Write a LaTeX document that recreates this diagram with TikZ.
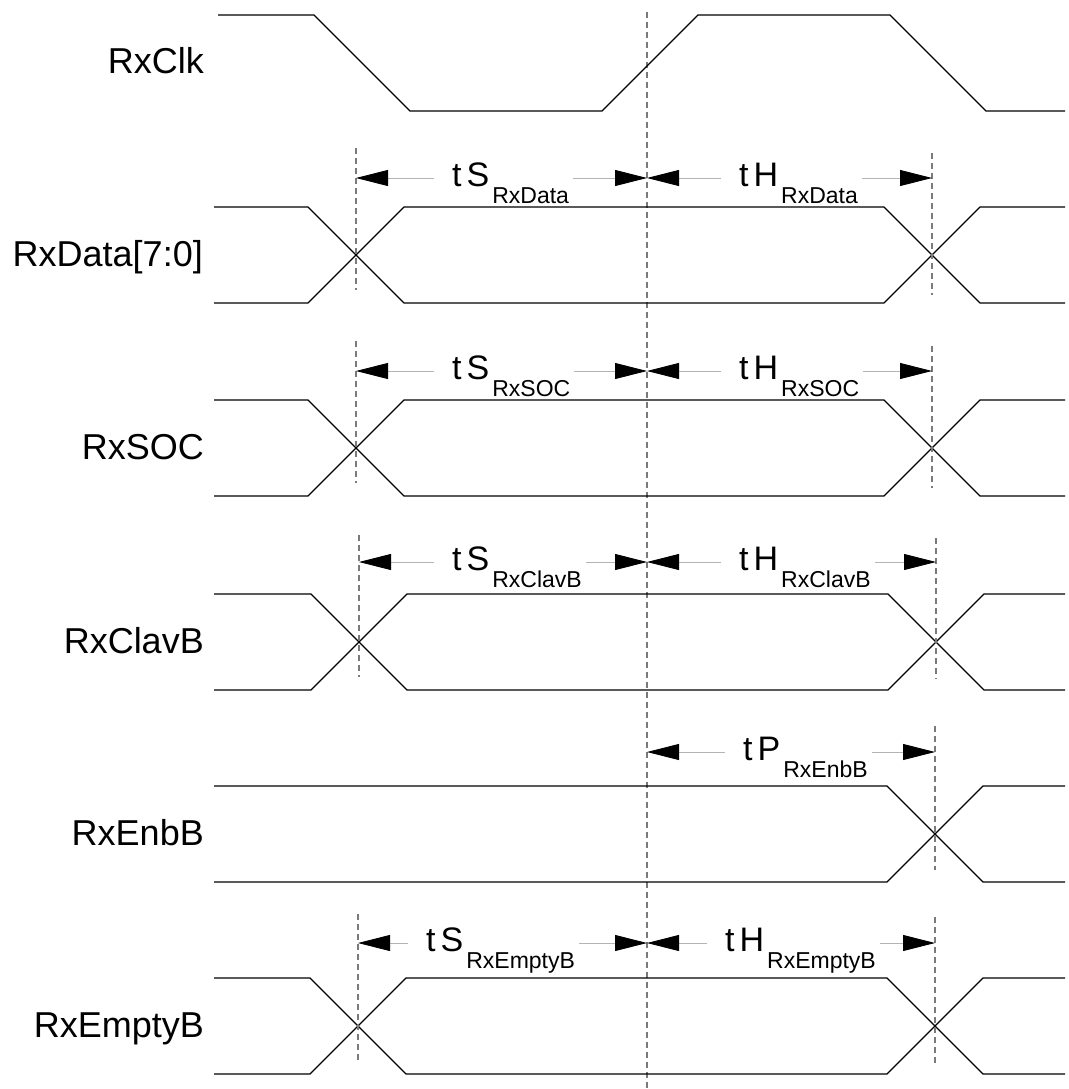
\documentclass[tikz,border=0pt]{standalone}
\usepackage{fontspec}
\setmainfont{Liberation Sans}
\usetikzlibrary{arrows.meta}
\definecolor{guidegray}{HTML}{7A7A7A}
\definecolor{dimgray}{HTML}{B4B4B4}
\newcommand{\tlab}[2]{{\fontsize{34}{34}\selectfont #1}\hspace{3pt}\raisebox{-17pt}{\fontsize{23}{23}\selectfont #2}}

\begin{document}
\begin{tikzpicture}[x=1pt, y=-1pt,
    sig/.style={line width=1.3pt, black},
    guide/.style={line width=2.8pt, guidegray, dash pattern=on 6pt off 4pt},
    dimline/.style={line width=0.8pt, dimgray, -{Triangle[length=32pt, width=16pt, color=black]}},
    dimleft/.style={dimline, shorten <=18pt},
    dimright/.style={dimline, shorten <=4pt},
    siglabel/.style={anchor=base east, inner sep=0pt, font=\fontsize{36}{36}\selectfont},
    timelabel/.style={anchor=base west, inner sep=0pt}]
            \useasboundingbox (0,0) rectangle (1068,1089);

            % signal names
            \node[siglabel] (nClk) at (204,74) {RxClk};
            \node[siglabel] (nData) at (203,266) {RxData[7:0]};
            \node[siglabel] (nSoc) at (204,459) {RxSOC};
            \node[siglabel] (nClav) at (204,653) {RxClavB};
            \node[siglabel] (nEnb) at (204,845) {RxEnbB};
            \node[siglabel] (nEmpty) at (204,1037) {RxEmptyB};

            % clock edge
            \draw[guide] (647,12) -- (647,1089);

            % waveforms
            \draw[sig] (218,15) -- (314,15) -- (410,111) -- (602,111) -- (698,15) -- (890,15) -- (986,111) -- (1065,111);

            \draw[sig] (214,207) -- (308,207) -- (404,303) -- (884,303) -- (980,207) -- (1065,207);
            \draw[sig] (214,303) -- (308,303) -- (404,207) -- (884,207) -- (980,303) -- (1065,303);

            \draw[sig] (214,400) -- (308,400) -- (404,496) -- (884,496) -- (980,400) -- (1065,400);
            \draw[sig] (214,496) -- (308,496) -- (404,400) -- (884,400) -- (980,496) -- (1065,496);

            \draw[sig] (214,594) -- (311,594) -- (407,690) -- (888,690) -- (984,594) -- (1065,594);
            \draw[sig] (214,690) -- (311,690) -- (407,594) -- (888,594) -- (984,690) -- (1065,690);

            \draw[sig] (214,786) -- (887,786) -- (983,882) -- (1065,882);
            \draw[sig] (214,882) -- (887,882) -- (983,786) -- (1065,786);

            \draw[sig] (214,978) -- (310,978) -- (406,1074) -- (887,1074) -- (983,978) -- (1065,978);
            \draw[sig] (214,1074) -- (310,1074) -- (406,978) -- (887,978) -- (983,1074) -- (1065,1074);

            % RxData
            \coordinate (dataL) at (356,178);
            \coordinate (dataC) at (647,178);
            \coordinate (dataR) at (932,178);
            \draw[guide] ([yshift=30pt]dataL) -- ++(0,142);
            \draw[guide] ([yshift=25pt]dataR) -- ++(0,142);
            \node[timelabel] (sData) at (452,186) {\tlab{t\hspace{5pt}S}{RxData}};
            \node[timelabel] (hData) at (739,186) {\tlab{t\hspace{5pt}H}{RxData}};
            \draw[dimleft] (sData.west |- dataL) -- (dataL);
            \draw[dimright] (sData.east |- dataC) -- (dataC);
            \draw[dimleft] (hData.west |- dataC) -- (dataC);
            \draw[dimright] (hData.east |- dataR) -- (dataR);

            % RxSOC
            \coordinate (socL) at (356,371);
            \coordinate (socC) at (647,371);
            \coordinate (socR) at (932,371);
            \draw[guide] ([yshift=30pt]socL) -- ++(0,142);
            \draw[guide] ([yshift=25pt]socR) -- ++(0,142);
            \node[timelabel] (sSoc) at (452,379) {\tlab{t\hspace{5pt}S}{RxSOC}};
            \node[timelabel] (hSoc) at (739,379) {\tlab{t\hspace{5pt}H}{RxSOC}};
            \draw[dimleft] (sSoc.west |- socL) -- (socL);
            \draw[dimright] (sSoc.east |- socC) -- (socC);
            \draw[dimleft] (hSoc.west |- socC) -- (socC);
            \draw[dimright] (hSoc.east |- socR) -- (socR);

            % RxClavB
            \coordinate (clavL) at (359,562);
            \coordinate (clavC) at (647,562);
            \coordinate (clavR) at (936,562);
            \draw[guide] ([yshift=27pt]clavL) -- ++(0,142);
            \draw[guide] ([yshift=24pt]clavR) -- ++(0,141);
            \node[timelabel] (sClav) at (452,570) {\tlab{t\hspace{5pt}S}{RxClavB}};
            \node[timelabel] (hClav) at (739,570) {\tlab{t\hspace{5pt}H}{RxClavB}};
            \draw[dimleft] (sClav.west |- clavL) -- (clavL);
            \draw[dimright] (sClav.east |- clavC) -- (clavC);
            \draw[dimleft] (hClav.west |- clavC) -- (clavC);
            \draw[dimright] (hClav.east |- clavR) -- (clavR);

            % RxEnbB
            \coordinate (enbC) at (647,752);
            \coordinate (enbR) at (935,752);
            \draw[guide] ([yshift=26pt]enbR) -- ++(0,144);
            \node[timelabel] (pEnb) at (743,760) {\tlab{t\hspace{5pt}P}{RxEnbB}};
            \draw[dimleft] (pEnb.west |- enbC) -- (enbC);
            \draw[dimright] (pEnb.east |- enbR) -- (enbR);

            % RxEmptyB
            \coordinate (emptyL) at (358,943);
            \coordinate (emptyC) at (647,943);
            \coordinate (emptyR) at (935,943);
            \draw[guide] ([yshift=29pt]emptyL) -- ++(0,147);
            \draw[guide] ([yshift=26pt]emptyR) -- ++(0,146);
            \node[timelabel] (sEmpty) at (426,951) {\tlab{t\hspace{5pt}S}{RxEmptyB}};
            \node[timelabel] (hEmpty) at (725,951) {\tlab{t\hspace{5pt}H}{RxEmptyB}};
            \draw[dimleft] (sEmpty.west |- emptyL) -- (emptyL);
            \draw[dimright] (sEmpty.east |- emptyC) -- (emptyC);
            \draw[dimleft] (hEmpty.west |- emptyC) -- (emptyC);
            \draw[dimright] (hEmpty.east |- emptyR) -- (emptyR);
        \end{tikzpicture}
\end{document}
